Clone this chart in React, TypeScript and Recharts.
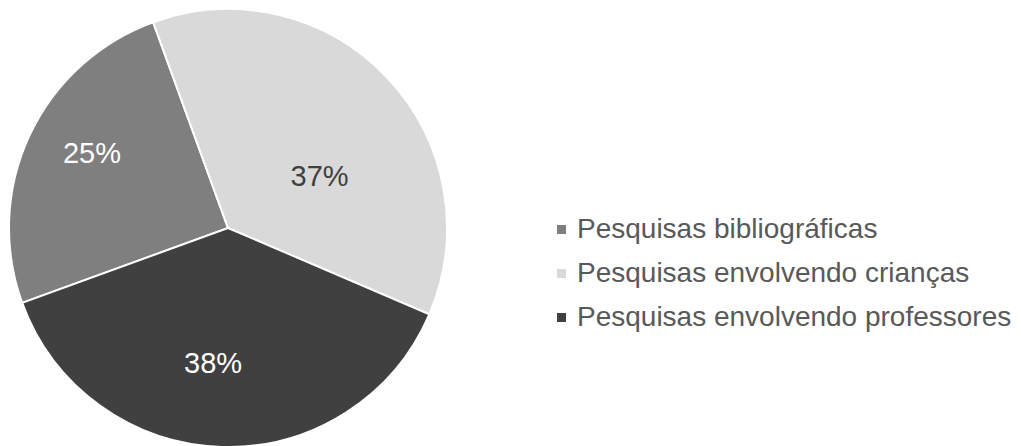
import React from "react";
import { PieChart, Pie, Cell, Legend } from "recharts";

const categories = [
  "Pesquisas bibliográficas",
  "Pesquisas envolvendo crianças",
  "Pesquisas envolvendo professores",
];
const values = [25, 37, 38];

const COLORS = ["#7f7f7f", "#d9d9d9", "#404040"];
const LABEL_COLORS = ["#ffffff", "#404040", "#ffffff"];
// label placement tweaks: angle offset (deg) and radius fraction
const LABEL_DANGLE = [-4, -14, -4.7];
const LABEL_RFRAC = [0.71, 0.48, 0.62];

const data = categories.map((name, i) => ({ name, value: values[i] }));

const FONT = "'Liberation Sans', Arial, Helvetica, sans-serif";
const RAD = Math.PI / 180;

const renderLabel = (props: any) => {
  const { cx, cy, midAngle, outerRadius, index, value } = props;
  const a = (midAngle + LABEL_DANGLE[index]) * RAD;
  const r = outerRadius * LABEL_RFRAC[index];
  const x = cx + r * Math.cos(a);
  const y = cy - r * Math.sin(a);
  return (
    <text
      x={x}
      y={y}
      fill={LABEL_COLORS[index]}
      textAnchor="middle"
      dominantBaseline="central"
      fontFamily={FONT}
      fontSize={29}
    >
      {`${value}%`}
    </text>
  );
};

const renderLegend = (props: any) => {
  const { payload } = props;
  return (
    <div style={{ fontFamily: FONT }}>
      {(payload || []).map((entry: any, i: number) => (
        <div
          key={i}
          style={{ display: "flex", alignItems: "center", height: 44 }}
        >
          <span
            style={{
              display: "inline-block",
              flexShrink: 0,
              width: 9,
              height: 9,
              background: entry.color,
              marginRight: 11,
            }}
          />
          <span style={{ fontSize: 28, color: "#595959", whiteSpace: "nowrap" }}>
            {entry.value}
          </span>
        </div>
      ))}
    </div>
  );
};

export default function App() {
  return (
    <PieChart
      width={1005}
      height={438}
      margin={{ top: 0, right: 0, bottom: 0, left: 0 }}
    >
      <Pie
        data={data}
        dataKey="value"
        nameKey="name"
        cx={220}
        cy={220}
        outerRadius={219}
        startAngle={200}
        endAngle={-160}
        stroke="#ffffff"
        strokeWidth={2}
        label={renderLabel}
        labelLine={false}
        isAnimationActive={false}
      >
        {data.map((_, i) => (
          <Cell key={i} fill={COLORS[i]} />
        ))}
      </Pie>
      <Legend
        content={renderLegend}
        wrapperStyle={{ left: 549, top: 199, width: 456, bottom: "auto" }}
      />
    </PieChart>
  );
}
